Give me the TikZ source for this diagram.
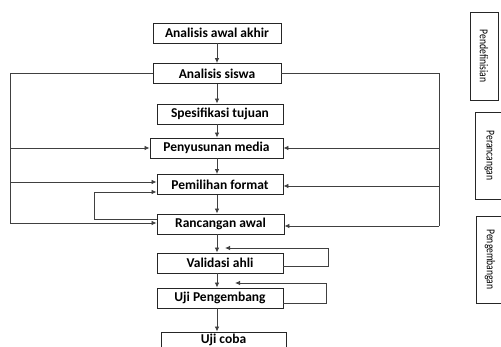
\documentclass[tikz,border=0pt]{standalone}
\usepackage{fontspec}
\setmainfont{Carlito}
\usepackage{tikz}
\usetikzlibrary{arrows.meta,positioning}

\begin{document}
\begin{tikzpicture}[
                          x=1pt, y=-1pt,
                          box/.style={draw=black!85, line width=0.9pt, inner sep=0pt,
                            minimum height=20pt, font=\fontsize{13.5}{16}\selectfont\bfseries},
                          phase/.style={draw=black!85, line width=0.9pt, inner sep=0pt,
                            rotate=-90, minimum width=87pt, minimum height=28pt,
                            font=\fontsize{12}{14}\selectfont\addfontfeatures{FakeStretch=0.8}},
                          line/.style={draw=black!75, line width=0.8pt},
                          arr/.style={line, -{Latex[length=5pt,width=4.5pt]}}]
                      \useasboundingbox (0,0) rectangle (501,347);
                      \coordinate (spine) at (217,0);
                      % main steps
                      \node[box, minimum width=128pt] (awal_akhir) at (217,33) {Analisis awal akhir};
                      \node[box, minimum width=128pt] (siswa) at (217,73.5) {Analisis siswa};
                      \node[box, minimum width=126pt] (tujuan) at (220,114) {Spesifikasi tujuan};
                      \node[box, minimum width=133pt] (media) at (216.5,148) {Penyusunan media};
                      \node[box, minimum width=126pt] (format) at (220,184.5) {Pemilihan format};
                      \node[box, minimum width=127pt] (rancangan) at (220.5,224) {Rancangan awal};
                      \node[box, minimum width=126pt] (validasi) at (220,263) {Validasi ahli};
                      \node[box, minimum width=126pt] (pengembang) at (220,298) {Uji Pengembang};
                      \node[box, minimum width=125pt, minimum height=16pt] (uji_coba) at (223.5,340) {Uji coba};
                      % phases
                      \node[phase, minimum width=88pt] (pendefinisian) at (484,56) {Pendefinisian};
                      \node[phase] (perancangan) at (489.5,155.5) {Perancangan};
                      \node[phase] (pengembangan) at (490,259.5) {Pengembangan};
                      % spine
                      \draw[arr] (awal_akhir.south -| spine) -- (siswa.north -| spine);
                      \draw[arr] (siswa.south -| spine) -- (tujuan.north -| spine);
                      \draw[arr] (tujuan.south -| spine) -- (media.north -| spine);
                      \draw[arr] (media.south -| spine) -- (format.north -| spine);
                      \draw[arr] (format.south -| spine) -- (rancangan.north -| spine);
                      \draw[arr] (rancangan.south -| spine) -- (validasi.north -| spine);
                      \draw[arr] (validasi.south -| spine) -- (pengembang.north -| spine);
                      \draw[arr] (pengembang.south -| spine) -- (uji_coba.north -| spine);
                      % left loop
                      \coordinate (left_top) at (10,73.5);
                      \coordinate (left_bot) at (10,223);
                      \draw[line] (siswa.west) -- (left_top) -- (left_bot);
                      \draw[arr] (left_bot) -- (rancangan.west |- left_bot);
                      \draw[arr] (left_top |- media) -- (media.west);
                      \draw[arr] (10,182) -- (format.west |- 0,182);
                      % right loop
                      \coordinate (right_top) at (439,73.5);
                      \coordinate (right_bot) at (439,226);
                      \draw[line] (siswa.east) -- (right_top) -- (right_bot);
                      \draw[arr] (right_bot) -- (rancangan.east |- right_bot);
                      \draw[arr] (right_top |- media) -- (media.east);
                      \draw[arr] (439,186) -- (format.east |- 0,186);
                      % inner loop
                      \draw[arr] (rancangan.west |- 0,219) -- (94,219) -- (94,192) -- (format.west |- 0,192);
                      % revision loops
                      \coordinate (validasi_in) at (225,248);
                      \coordinate (pengembang_in) at (235,283);
                      \draw[arr] (validasi.east |- 0,266) -- (328,266) -- (328,248) -- (validasi_in);
                      \draw[arr] (pengembang.east |- 0,303) -- (326,303) -- (326,283) -- (pengembang_in);
                  \end{tikzpicture}
\end{document}
